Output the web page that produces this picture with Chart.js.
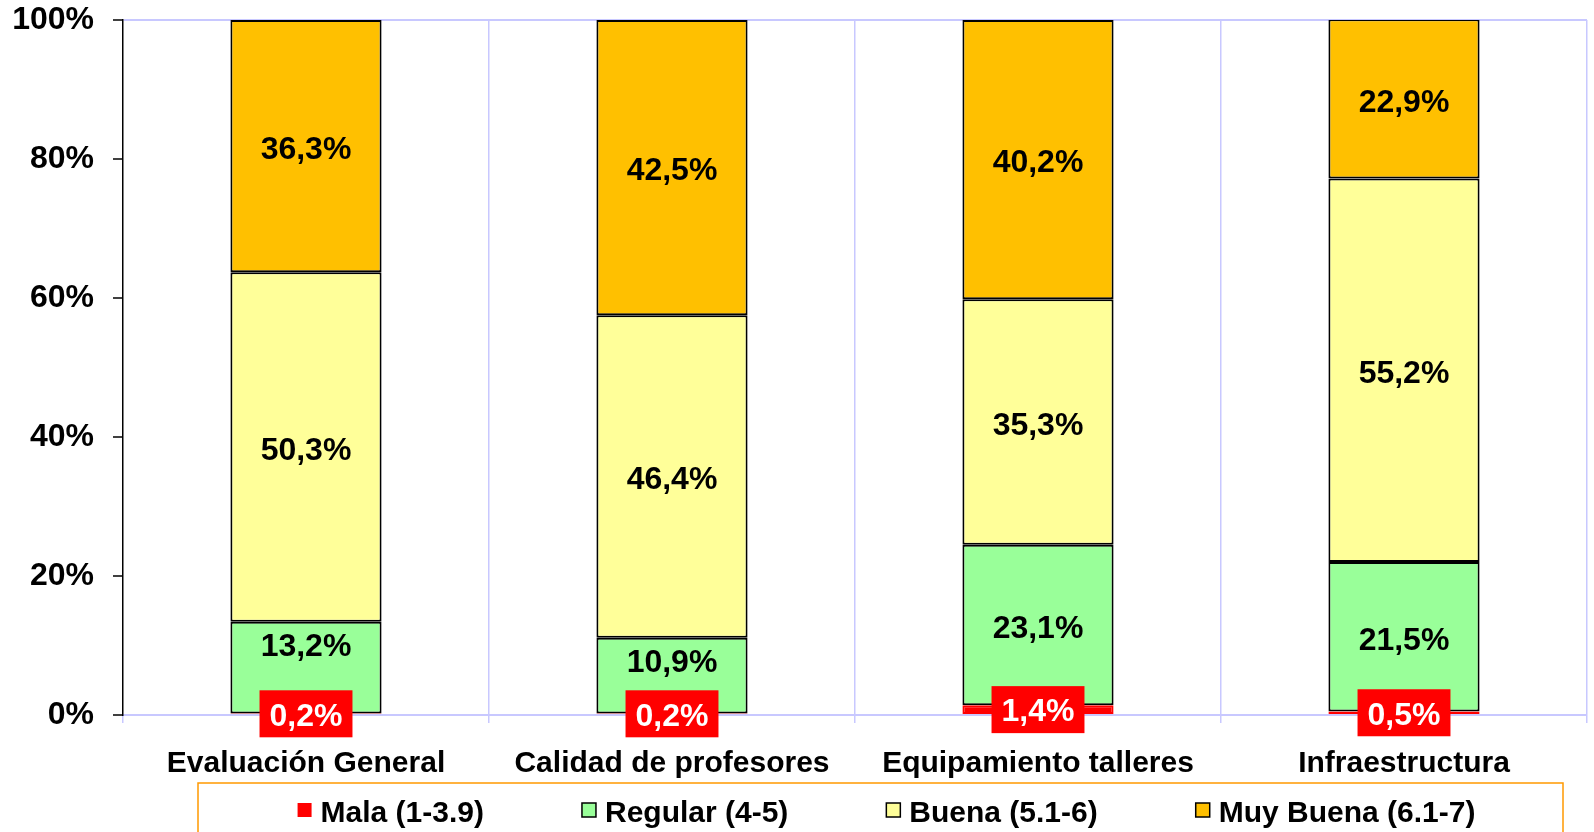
<!DOCTYPE html>
<html>
<head>
<meta charset="utf-8">
<script src="https://cdn.jsdelivr.net/npm/chart.js@4"></script>
<style>
  html, body { margin: 0; padding: 0; background: #fff; }
  #wrap { width: 1594px; height: 832px; overflow: hidden; }
</style>
</head>
<body>
<div id="wrap"><canvas id="c" width="1594" height="832"></canvas></div>
<script>
// ---- Data ----
const categories = ['Evaluación General', 'Calidad de profesores', 'Equipamiento talleres', 'Infraestructura'];
const seriesLabels = ['Mala (1-3.9)', 'Regular (4-5)', 'Buena (5.1-6)', 'Muy Buena (6.1-7)'];
const mala = [0.2, 0.2, 1.4, 0.5];
const regular = [13.2, 10.9, 23.1, 21.5];
const buena = [50.3, 46.4, 35.3, 55.2];
const muyBuena = [36.3, 42.5, 40.2, 22.9];
const yTickValues = [0, 20, 40, 60, 80, 100];

// ---- Styles ----
const FONT = '"Liberation Sans", Arial, Helvetica, sans-serif';
const LAV = '#c8c8ff';
const colors = ['#ff0000', '#99ff99', '#ffff99', '#ffc000'];
const borders = ['#ff0000', '#000000', '#000000', '#000000'];

const seriesValues = [mala, regular, buena, muyBuena];
const datasets = seriesValues.map((vals, i) => ({
  label: seriesLabels[i],
  data: vals,
  backgroundColor: colors[i],
  borderColor: borders[i],
  borderWidth: 2,
  borderSkipped: false,
  categoryPercentage: 1.0,
  barPercentage: 0.413
}));

function fmt(v) { return v.toFixed(1).replace('.', ',') + '%'; }

const labelPlugin = {
  id: 'segLabels',
  afterDatasetsDraw(chart) {
    const ctx = chart.ctx;
    ctx.save();
    ctx.font = 'bold 32px ' + FONT;
    ctx.textAlign = 'center';
    ctx.textBaseline = 'middle';
    chart.data.datasets.forEach((ds, di) => {
      const meta = chart.getDatasetMeta(di);
      meta.data.forEach((el, i) => {
        const p = el.getProps(['x', 'y', 'base'], true);
        const top = Math.min(p.y, p.base), bot = Math.max(p.y, p.base);
        const txt = fmt(ds.data[i]);
        let cy = (top + bot) / 2;
        if (di === 0) {
          const w = ctx.measureText(txt).width + 20;
          const h = 47;
          ctx.fillStyle = '#ff0000';
          ctx.fillRect(p.x - w / 2, cy - h / 2, w, h);
          ctx.fillStyle = '#ffffff';
          ctx.fillText(txt, p.x, cy + 3);
        } else {
          if (bot - top < 120) cy = top + 21;
          ctx.fillStyle = '#000000';
          ctx.fillText(txt, p.x, cy + 4);
        }
      });
    });
    ctx.restore();
  }
};

const legendPlugin = {
  id: 'customLegend',
  afterDraw(chart) {
    const ctx = chart.ctx;
    ctx.save();
    const boxL = 198, boxR = 1563, boxT = 783;
    ctx.strokeStyle = '#ff9900';
    ctx.lineWidth = 1.5;
    ctx.strokeRect(boxL, boxT, boxR - boxL, 120);
    ctx.font = 'bold 30px ' + FONT;
    ctx.textBaseline = 'middle';
    ctx.textAlign = 'left';
    const sq = 14, gapTxt = 9, gapItem = 98;
    const ds = chart.data.datasets;
    const widths = ds.map(d => sq + gapTxt + ctx.measureText(d.label).width);
    const total = widths.reduce((a, b) => a + b, 0) + gapItem * (ds.length - 1);
    let x = (boxL + boxR) / 2 - total / 2 + 6;
    const cy = 813;
    ds.forEach((d, i) => {
      ctx.fillStyle = d.backgroundColor;
      ctx.fillRect(x, cy - sq / 2 - 3, sq, sq);
      if (d.borderColor !== d.backgroundColor) {
        ctx.strokeStyle = '#000';
        ctx.lineWidth = 1.5;
        ctx.strokeRect(x, cy - sq / 2 - 3, sq, sq);
      }
      ctx.fillStyle = '#000';
      ctx.fillText(d.label, x + sq + gapTxt, cy + 1);
      x += widths[i] + gapItem;
    });
    ctx.restore();
  }
};

new Chart(document.getElementById('c'), {
  type: 'bar',
  data: { labels: categories, datasets },
  options: {
    responsive: false,
    animation: false,
    devicePixelRatio: 1,
    layout: { padding: { top: 0, right: 7, bottom: 49, left: 0 } },
    plugins: {
      legend: { display: false },
      tooltip: { enabled: false }
    },
    scales: {
      x: {
        stacked: true,
        grid: {
          offset: true,
          color: (c) => (c.index === 0 ? 'rgba(0,0,0,0)' : LAV),
          lineWidth: 1.5,
          drawTicks: true,
          tickLength: 8,
          tickColor: LAV,
          tickWidth: 1.5
        },
        border: { color: LAV, width: 2 },
        ticks: {
          color: '#000',
          font: { family: FONT, size: 30, weight: 'bold' },
          padding: 23,
          maxRotation: 0,
          autoSkip: false
        },
        afterFit(s) { s.height = 68; }
      },
      y: {
        stacked: true,
        min: 0,
        max: 100,
        afterBuildTicks(s) { s.ticks = yTickValues.map(v => ({ value: v })); },
        grid: {
          color: (c) => (c.tick && (c.tick.value === 100 || c.tick.value === 0) ? LAV : 'rgba(0,0,0,0)'),
          lineWidth: 2,
          drawTicks: true,
          tickLength: 10,
          tickColor: '#000',
          tickWidth: 1.5
        },
        border: { color: '#000', width: 1.5, z: 1 },
        ticks: {
          color: '#000',
          font: { family: FONT, size: 32, weight: 'bold', lineHeight: 0.06 },
          padding: 19,
          callback: (v) => v + '%'
        },
        afterFit(s) { s.width = 123; }
      }
    }
  },
  plugins: [labelPlugin, legendPlugin]
});
</script>
</body>
</html>
